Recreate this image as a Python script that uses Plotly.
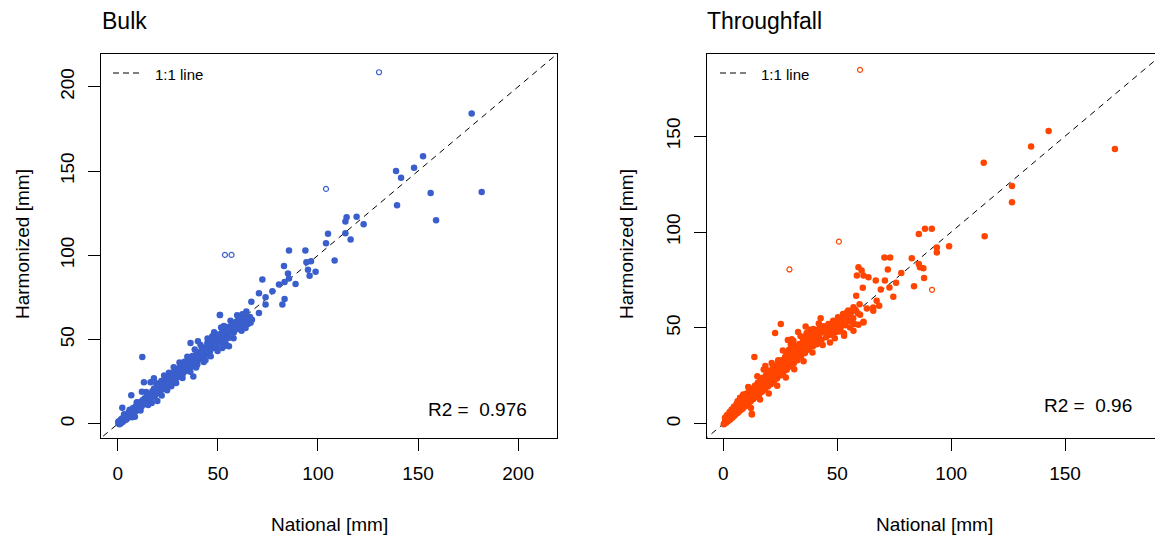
import plotly.graph_objects as go

# ---------------- data ----------------
# Bulk: dense band along the 1:1 line
bulk_band_x = [0.3, 0.9, 1.4, 1.7, 2.3, 2.8, 3.3, 3.9, 4.4, 4.8, 5.4, 5.9, 6.3, 6.9, 7.6, 8.1, 8.8, 9.3, 9.9, 10.6,
               11.1, 11.8, 12.3, 12.9, 13.4, 14.2, 14.7, 15.3, 15.9, 16.6, 17.2, 17.9, 18.3, 18.8, 19.6, 20.3, 20.8, 21.4, 22.1, 22.7,
               23.3, 23.9, 24.4, 25.1, 25.6, 26.3, 26.8, 27.4, 28.1, 28.7, 29.3, 29.8, 30.6, 31.2, 31.9, 32.4, 33.1, 33.7, 34.4, 35.1,
               35.8, 36.6, 37.2, 38.1, 38.7, 39.5, 40.2, 41.1, 41.8, 42.6, 43.5, 44.3, 45.1, 46.0, 46.8, 47.7, 48.5, 49.4, 50.3, 51.2,
               52.1, 53.0, 54.0, 55.1, 56.0, 57.2, 58.1, 59.3, 60.4, 61.5, 62.7, 63.6]
bulk_band_y = [0.1, 1.8, 0.4, 2.6, 1.3, 3.9, 2.4, 5.1, 3.3, 4.1, 6.9, 4.6, 7.2, 5.8, 9.3, 6.9, 10.1, 8.2, 11.6, 9.4,
               12.8, 10.3, 13.9, 11.6, 15.2, 12.5, 16.8, 13.9, 17.2, 15.1, 19.3, 16.2, 20.6, 17.1, 21.4, 18.5, 23.3, 19.8, 24.6, 20.9,
               25.8, 22.4, 27.1, 23.2, 28.4, 24.1, 29.3, 25.9, 30.7, 26.4, 31.9, 27.8, 33.1, 28.6, 34.2, 29.7, 35.6, 31.2, 36.3, 32.4,
               37.8, 33.9, 39.4, 35.2, 40.6, 36.8, 42.1, 38.3, 43.7, 39.6, 45.2, 41.4, 46.9, 43.1, 48.6, 44.9, 50.2, 46.3, 52.4, 48.2,
               54.3, 50.1, 56.4, 52.2, 57.8, 54.3, 59.6, 56.1, 61.8, 58.3, 63.4, 59.7]

# Bulk: looser scatter around the band
bulk_scatter_x = [8.5, 11.3, 14.1, 16.9, 19.2, 21.9, 23.1, 24.6, 27.9, 29.1, 30.8, 32.3, 34.7, 36.2, 38.4, 39.1, 41.3, 42.9, 44.8, 46.4,
                  48.1, 49.8, 51.6, 53.4, 56.3, 57.8, 59.6, 61.8, 64.2, 47.3, 43.8, 33.2, 26.7, 18.1, 9.7, 5.9, 3.1, 7.1]
bulk_scatter_y = [4.2, 7.9, 18.9, 12.4, 24.1, 16.8, 28.7, 19.9, 33.6, 24.2, 36.4, 27.1, 39.8, 30.9, 44.1, 33.4, 46.8, 36.7, 50.6, 40.1,
                  54.3, 43.2, 57.1, 46.3, 61.2, 50.7, 64.4, 55.2, 66.7, 51.8, 37.9, 36.8, 22.6, 20.9, 12.8, 8.3, 5.7, 3.9]

bulk_x = [0.5, 1, 1.5, 2, 2.5, 3, 3.5, 4, 4.5, 5, 5.5, 6, 6.5, 7, 7.5, 8, 8.5, 9, 9.5, 10,
          10.5, 11, 11.5, 12, 12.5, 13, 13.5, 14, 14.5, 15, 15.5, 16, 16.5, 17, 17.5, 18, 18.5, 19, 19.5, 20,
          20.5, 21, 21.5, 22, 22.5, 23, 23.5, 24, 24.5, 25, 25.5, 26, 26.5, 27, 27.5, 28, 28.5, 29, 29.5, 30,
          30.5, 31, 31.5, 32, 32.5, 33, 33.5, 34, 35, 35.5, 36, 37, 38, 39, 40, 41, 42, 43, 44, 45,
          46, 47, 48, 49, 50, 51, 52, 53, 54, 55, 56, 57, 58, 59, 60, 61, 62, 63, 64, 65, 66, 67,
          0.2, 0.8, 1.2, 1.8, 2.2, 3.2, 3.8, 4.2, 5.2, 6.2, 7.2, 8.4, 9.2, 10.2, 11.2, 12.4, 13.6, 14.8, 16.2, 17.4,
          18.6, 19.8, 21.2, 22.4, 23.6, 24.8, 26.2, 27.4, 28.6, 29.8, 31.2, 32.6, 33.8, 35.2, 36.4, 37.6, 38.8, 40.4, 41.6, 43.2,
          44.6, 46.2, 47.6, 49.2, 50.6, 52.4, 54.4, 55.8, 57.4, 59.2, 60.8, 62.4,
          2.2, 6.7, 12.2, 13, 16.3, 18, 12, 19.7, 36.3, 40, 37.7, 51, 44.7, 45.5, 43, 40.5, 37.2, 43, 39.7, 35.5,
          33.8, 30.5, 28.8, 25.5, 24.7, 27.2, 30.5, 20.5, 63, 65.5, 66.3, 63.8, 58.8, 55.5, 53, 52.2, 49.7, 47.2, 55.5, 53.8,
          52.2, 55.5, 62.2, 60.5, 9.4, 15.1, 21.7, 26.6, 31.8, 47.3, 57.9,
          51, 66.7, 70.5, 72.2, 73.8, 77.2, 70.5, 73.8, 83.3, 82.2, 80.5, 83.3, 88.8, 85.5, 85, 95.8, 98.8, 95, 83, 94.2,
          93.7, 85.5, 96.5, 108.3, 116.3, 113.7, 104, 105, 122.8, 113.7, 119.3, 114.3, 159, 139.5, 181.8, 156.3, 141.5, 139,
          148, 152.5, 176.8]
bulk_y = [0.5, 1.5, 0.3, 2.5, 1.2, 3.5, 2.2, 4.8, 3.1, 5.6, 4.2, 6.8, 5.3, 7.9, 6.1, 8.2, 7.3, 9.8, 8.4, 10.7,
          9.1, 11.9, 10.2, 12.3, 11.4, 14.1, 12.2, 14.6, 13.1, 16.2, 14.3, 15.4, 17.8, 16.1, 18.4, 17.2, 19.6, 18.1, 20.3, 19.4,
          21.8, 20.2, 22.6, 21.3, 23.9, 22.1, 24.8, 23.2, 25.7, 24.3, 27.1, 25.2, 27.9, 26.4, 28.6, 27.2, 30.1, 28.3, 30.8, 29.1,
          31.6, 30.2, 32.8, 31.3, 33.9, 32.1, 34.6, 33.2, 36.1, 34.3, 37.4, 35.8, 39.2, 37.6, 41.3, 39.4, 43.6, 41.2, 45.1, 43.4,
          47.5, 45.2, 49.3, 47.1, 51.6, 49.4, 53.2, 51.8, 55.6, 53.7, 57.2, 55.9, 59.8, 57.1, 61.2, 59.4, 62.8, 60.3, 62.1, 59.2, 63.4, 61.8,
          1.2, -0.3, 0.8, 2.9, 1.8, 2.8, 4.1, 2.6, 4.9, 5.8, 6.6, 9.1, 7.8, 9.8, 10.6, 13.3, 12.8, 15.2, 14.9, 17.3,
          17.7, 21.1, 21.4, 20.9, 23.7, 24.1, 26.9, 25.8, 29.2, 27.6, 31.4, 30.7, 35.3, 33.6, 35.2, 36.9, 38.1, 39.6, 42.3, 43.1,
          42.8, 45.8, 48.2, 50.6, 52.8, 50.6, 57.3, 56.6, 58.4, 60.6, 60.2, 63.9,
          9.5, 17, 39.6, 24.7, 24.7, 27, 19, 13.5, 48, 49, 28.1, 64.5, 48, 45, 43.1, 42.1, 40.2, 38.2, 35.2, 37.2,
          34.2, 32.2, 29.3, 30.3, 26.3, 25.3, 28.3, 19.4, 62.9, 61.9, 59.9, 56.9, 56.9, 56, 58, 53, 53, 52, 51, 48,
          45, 46, 65, 63.5, 12.6, 11.2, 25.4, 22.3, 29.1, 50.9, 54.1,
          64.5, 72.4, 65.8, 85.6, 75.1, 78.7, 77.5, 70.8, 74.1, 70.8, 82.7, 84.2, 83, 86.2, 89.2, 87.8, 90.2, 91.4, 93.7, 95.9,
          102.8, 102.8, 96.5, 96.9, 109.4, 113, 107.2, 112.7, 118.4, 120, 122.8, 122.6, 120.8, 129.7, 137.6, 137, 146, 150,
          152, 158.8, 184.1]

bulk_open_x = [130.5, 104, 53.5, 56.8]
bulk_open_y = [208.6, 139.4, 100.2, 100.2]

# Throughfall: dense band (slightly above the 1:1 line at low values)
tf_band_x = [0.2, 0.7, 1.1, 1.6, 2.2, 2.7, 3.1, 3.6, 4.2, 4.6, 5.1, 5.7, 6.2, 6.8, 7.3, 7.9, 8.4, 9.1, 9.6, 10.2,
             10.8, 11.4, 11.9, 12.6, 13.2, 13.8, 14.4, 15.1, 15.7, 16.3, 16.9, 17.6, 18.2, 18.9, 19.5, 20.2, 20.8, 21.5, 22.1, 22.8,
             23.5, 24.2, 24.9, 25.6, 26.3, 27.1, 27.8, 28.6, 29.3, 30.1, 30.9, 31.7, 32.5, 33.3, 34.1, 35.0, 35.8, 36.7, 37.6, 38.5,
             39.4, 40.3, 41.2, 42.2, 43.1, 44.1, 45.1, 46.1, 47.1, 48.2, 49.2, 50.3, 51.4, 52.5, 53.6, 54.8, 55.9, 57.1]
tf_band_y = [-0.3, 3.1, 0.9, 4.6, 1.8, 6.2, 2.9, 7.4, 3.8, 8.9, 4.9, 10.2, 5.6, 11.3, 7.1, 12.9, 7.9, 14.1, 9.2, 15.8,
             10.4, 17.2, 11.6, 18.3, 12.9, 19.9, 14.2, 21.4, 15.3, 22.8, 16.7, 24.1, 17.9, 25.6, 19.4, 27.2, 20.6, 28.3, 22.1, 29.9,
             23.6, 31.4, 25.2, 33.1, 26.8, 34.9, 28.2, 36.4, 29.9, 38.1, 31.6, 39.8, 33.2, 41.6, 35.1, 43.4, 36.9, 45.2, 38.8, 46.9,
             40.6, 48.4, 42.9, 49.6, 43.8, 50.9, 45.2, 52.1, 46.4, 53.8, 47.9, 55.6, 49.8, 57.3, 51.4, 59.1, 53.3, 60.8]

# Throughfall: looser scatter around the band
tf_scatter_x = [6.2, 8.7, 10.9, 12.1, 14.9, 16.1, 17.7, 19.9, 21.2, 23.6, 26.1, 27.4, 29.6, 31.1, 33.9, 35.2, 37.8, 39.1, 41.9, 43.6,
                45.8, 48.9, 50.7, 52.9, 55.2, 57.6, 59.8, 18.4, 28.3, 32.8, 36.1, 42.7]
tf_scatter_y = [11.8, 15.3, 19.2, 8.2, 24.8, 12.6, 28.3, 15.8, 31.7, 19.8, 38.2, 24.1, 41.3, 28.4, 45.6, 32.6, 49.1, 37.2, 52.3, 41.1,
                46.7, 44.6, 48.1, 47.2, 57.4, 52.1, 62.4, 30.2, 43.7, 47.9, 50.7, 55.1]

tf_x = [0.3, 0.8, 1.2, 1.6, 2.1, 2.5, 3, 3.4, 3.9, 4.3, 4.8, 5.2, 5.7, 6.1, 6.6, 7, 7.5, 8, 8.4, 8.9,
        9.4, 9.8, 10.3, 10.8, 11.2, 11.7, 12.2, 12.6, 13.1, 13.6, 14, 14.5, 15, 15.4, 15.9, 16.4, 16.8, 17.3, 17.8, 18.2,
        18.7, 19.2, 19.6, 20.1, 20.6, 21, 21.5, 22, 22.4, 22.9, 23.4, 23.8, 24.3, 24.8, 25.2, 25.7, 26.2, 26.6, 27.1, 27.6,
        28, 28.5, 29, 29.4, 29.9, 30.4, 30.8, 31.3, 31.8, 32.2, 32.7, 33.2, 33.6, 34.1, 34.6, 35, 35.5, 36, 36.4, 36.9,
        37.4, 37.8, 38.3, 38.8, 39.2, 39.7, 40.2, 40.6, 41.1, 41.6, 42, 43, 44, 45, 46, 47, 48, 49, 50, 51,
        52, 53, 54, 55, 56, 57, 58, 59,
        4.4, 11.7, 19, 26.3, 33.7, 41, 51.2, 52.7, 65.8, 13.6, 12.5, 22.7, 25.2, 19, 24.1, 27.8, 30.7, 36.6, 44.6, 61.5,
        30, 31.5, 36.6, 39.5, 41, 44.6, 48.3, 46.8, 49.8, 53, 55.6, 57.1, 59.3, 61.5, 54.2, 54.2, 60, 65.8, 63, 68.4,
        67.3, 58.3, 74.6, 61.2, 69.1, 72.9, 75.8, 66.9, 70.9, 63.7, 58.6, 61.5, 60.7, 59.3, 72.2, 78.1, 70.7, 73.2, 82.7, 85.8,
        86.3, 87.8, 88.1, 83.7, 85.8, 88.5, 91.5, 93.7, 93.7, 99.1, 114.7, 114.3, 126.7, 126.7, 135.1, 142.8, 171.9,
        24.1, 19.8, 19, 12.5, 7.3, 27.8, 1.5, 9.5, 16.5, 21.8, 28.8, 34.8, 6.8, 14.2, 23.2, 31.2]
tf_y = [0.2, 1.6, 0.5, 2.8, 1.4, 3.6, 2.2, 4.5, 3.1, 5.8, 4.2, 6.9, 5.3, 7.4, 6.1, 8.6, 7.2, 9.8, 8.1, 10.9,
        9.3, 12.1, 10.4, 13.2, 11.3, 14.6, 12.4, 15.3, 13.5, 16.8, 14.4, 17.9, 15.6, 18.7, 16.5, 20.1, 17.4, 21.2, 18.6, 22.4,
        19.5, 23.3, 20.7, 24.5, 21.6, 25.8, 22.8, 26.9, 23.6, 27.8, 24.9, 29.1, 25.8, 30.2, 27.1, 31.3, 28.2, 32.5, 29.4, 33.4,
        30.5, 34.8, 31.6, 35.7, 32.8, 37.1, 33.9, 38.2, 34.7, 39.4, 35.8, 40.3, 36.9, 41.6, 38.1, 42.4, 39.2, 43.8, 40.1, 44.6,
        41.3, 45.9, 42.2, 46.8, 43.4, 47.6, 44.3, 48.7, 45.4, 49.2, 46.3, 47.6, 49.8, 48.2, 50.4, 49.1, 51.6, 50.2, 52.8, 51.4,
        54.6, 52.3, 56.2, 53.8, 57.9, 55.1, 59.3, 57.6,
        6.6, 11.9, 20.6, 27.6, 36.3, 41.5, 48.5, 55.4, 60.7, 34.9, 5.2, 47.3, 52, 27.6, 32.8, 36.3, 43.3, 47.3, 49.4, 52.8,
        44.1, 40.6, 47.1, 49.4, 45.9, 49.9, 47.6, 42.4, 50.2, 45.9, 50.2, 48.5, 51.6, 53.2, 55.4, 58.1, 56.9, 58.9, 60.1, 61.6,
        64.2, 66.8, 66.3, 71, 70.1, 71.1, 73.6, 74.8, 74.8, 76.4, 77.3, 77.3, 79.9, 81.6, 80.5, 78.7, 86.7, 86.7, 86.3, 83.4,
        81.6, 81.1, 76, 71.7, 99, 101.7, 101.7, 92, 89.4, 92.6, 97.8, 136.2, 124, 115.6, 144.7, 152.7, 143.3,
        33.2, 27.6, 25.8, 4.9, 13.6, 35.9, 4, 14.2, 23.8, 29.6, 38.6, 45.2, 9.1, 19.8, 30.1, 40.2]

tf_open_x = [60, 50.7, 29, 91.6]
tf_open_y = [184.6, 95, 80.5, 69.9]

one_to_one = [-20, 260]

bulk_r2 = "R2 =  0.976"
tf_r2 = "R2 =  0.96"

BLUE = "#3A5FCD"
ORANGE = "#FF4500"
FONT = "Liberation Sans, Arial, Helvetica, sans-serif"
W, H = 1155, 539
MS = 6.5

fig = go.Figure()

# 1:1 lines
for xa, ya in (("x", "y"), ("x2", "y2")):
    fig.add_trace(go.Scatter(x=one_to_one, y=one_to_one, mode="lines",
                             line=dict(color="black", width=1, dash="6px,5px"),
                             xaxis=xa, yaxis=ya, hoverinfo="skip"))

# points
fig.add_trace(go.Scatter(x=bulk_band_x + bulk_scatter_x + bulk_x,
                         y=bulk_band_y + bulk_scatter_y + bulk_y,
                         mode="markers", xaxis="x", yaxis="y",
                         marker=dict(color=BLUE, size=MS, line=dict(width=0))))
fig.add_trace(go.Scatter(x=bulk_open_x, y=bulk_open_y, mode="markers", xaxis="x", yaxis="y",
                         marker=dict(symbol="circle-open", color=BLUE, size=5, line=dict(width=1.2))))
fig.add_trace(go.Scatter(x=tf_band_x + tf_scatter_x + tf_x,
                         y=tf_band_y + tf_scatter_y + tf_y,
                         mode="markers", xaxis="x2", yaxis="y2",
                         marker=dict(color=ORANGE, size=MS, line=dict(width=0))))
fig.add_trace(go.Scatter(x=tf_open_x, y=tf_open_y, mode="markers", xaxis="x2", yaxis="y2",
                         marker=dict(symbol="circle-open", color=ORANGE, size=5, line=dict(width=1.2))))


def px_x(p):
    return p / W


def px_y(p):
    return 1 - p / H


ax_common = dict(showgrid=False, zeroline=False, showline=True, mirror=True, linecolor="black",
                 linewidth=1, ticks="outside", ticklen=12, tickwidth=1, tickcolor="black",
                 tickfont=dict(family=FONT, size=19, color="black"), automargin=False)

fig.update_layout(
    width=W, height=H, autosize=False,
    margin=dict(l=0, r=0, t=0, b=0),
    paper_bgcolor="white", plot_bgcolor="white",
    showlegend=False,
    font=dict(family=FONT, color="black"),
    xaxis=dict(domain=[px_x(101), px_x(557)], range=[-8.44, 219.44], anchor="y",
               tickvals=[0, 50, 100, 150, 200], ticklabelstandoff=6, **ax_common),
    yaxis=dict(domain=[px_y(438), px_y(54)], range=[-8.44, 219.44], anchor="x",
               tickvals=[0, 50, 100, 150, 200], tickangle=-90, ticklabelstandoff=6, **ax_common),
    xaxis2=dict(domain=[px_x(706.5), 1.0], range=[-7.42, 189.5], anchor="y2",
                tickvals=[0, 50, 100, 150], ticklabelstandoff=6, **ax_common),
    yaxis2=dict(domain=[px_y(438), px_y(54)], range=[-7.42, 192.9], anchor="x2",
                tickvals=[0, 50, 100, 150], tickangle=-90, ticklabelstandoff=6, **ax_common),
)

ann = []
# panel titles
ann.append(dict(text="Bulk", x=px_x(100), y=px_y(21), xref="paper", yref="paper",
                xanchor="left", yanchor="middle", showarrow=False, font=dict(size=23)))
ann.append(dict(text="Throughfall", x=px_x(705), y=px_y(21), xref="paper", yref="paper",
                xanchor="left", yanchor="middle", showarrow=False, font=dict(size=23)))
# axis titles
for cx in (329, 934.5):
    ann.append(dict(text="National [mm]", x=px_x(cx), y=px_y(524), xref="paper", yref="paper",
                    xanchor="center", yanchor="middle", showarrow=False, font=dict(size=19)))
for cx in (22, 626):
    ann.append(dict(text="Harmonized [mm]", x=px_x(cx), y=px_y(244), xref="paper", yref="paper",
                    xanchor="center", yanchor="middle", textangle=-90, showarrow=False,
                    font=dict(size=19)))
# legends
for lx in (153, 759):
    ann.append(dict(text="1:1 line", x=px_x(lx), y=px_y(75), xref="paper", yref="paper",
                    xanchor="left", yanchor="middle", showarrow=False, font=dict(size=15)))
# R2 labels
ann.append(dict(text=bulk_r2, x=px_x(477), y=px_y(409), xref="paper", yref="paper",
                xanchor="center", yanchor="middle", showarrow=False, font=dict(size=19)))
ann.append(dict(text=tf_r2, x=px_x(1087.5), y=px_y(405), xref="paper", yref="paper",
                xanchor="center", yanchor="middle", showarrow=False, font=dict(size=19)))
fig.update_layout(annotations=ann)

shapes = []
for x0 in (113, 720):
    shapes.append(dict(type="line", xref="paper", yref="paper", x0=px_x(x0), x1=px_x(x0 + 27),
                       y0=px_y(73), y1=px_y(73), line=dict(color="black", width=1, dash="6px,4px")))
fig.update_layout(shapes=shapes)

fig.write_html("out.html")
